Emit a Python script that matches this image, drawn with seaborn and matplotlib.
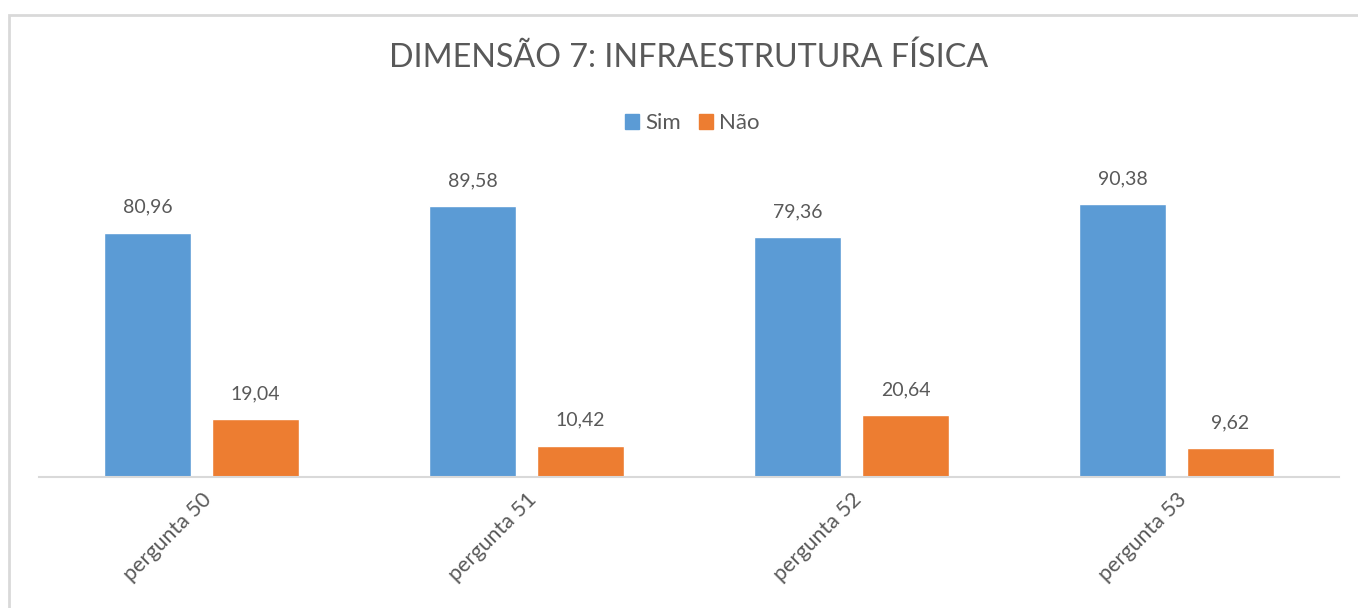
import pandas as pd
import numpy as np
import matplotlib
matplotlib.use('Agg')
import matplotlib.pyplot as plt
import seaborn as sns
from matplotlib.patches import Rectangle

# Data
perguntas = ["pergunta 50", "pergunta 51", "pergunta 52", "pergunta 53"]
sim = [80.96, 89.58, 79.36, 90.38]
nao = [19.04, 10.42, 20.64, 9.62]
series = ["Sim", "Não"]

df = pd.DataFrame({
    "pergunta": perguntas * 2,
    "resposta": [series[0]] * len(perguntas) + [series[1]] * len(perguntas),
    "valor": sim + nao,
})

TEXT = "#595959"
GRID = "#D9D9D9"
PALETTE = {"Sim": "#5B9BD5", "Não": "#ED7D31"}

sns.set_theme(style="white")
plt.rcParams['font.family'] = ['Lato', 'DejaVu Sans']

W, H = 1358, 608
fig = plt.figure(figsize=(W / 100, H / 100), dpi=100)
ax = fig.add_axes([39 / W, 131 / H, 1300 / W, 302 / H])

sns.barplot(data=df, x="pergunta", y="valor", hue="resposta", palette=PALETTE,
            width=0.665, gap=0.2, ax=ax, legend=False, saturation=1)

ax.set_ylim(0, 100)
ax.set_xlim(-0.5, len(perguntas) - 0.5)
ax.set_xlabel("")
ax.set_ylabel("")
ax.set_yticks([])
for s in ["top", "right", "left"]:
    ax.spines[s].set_visible(False)
ax.spines["bottom"].set_color(GRID)
ax.spines["bottom"].set_linewidth(1.5)
ax.tick_params(axis="x", length=0, pad=9)
ax.set_xticks(range(len(perguntas)))
ax.set_xticklabels(perguntas, rotation=45, ha="right", va="top",
                   rotation_mode="anchor", fontsize=15.5, color=TEXT)

# Data labels
for cont in ax.containers:
    for bar in cont:
        v = bar.get_height()
        ax.annotate(f"{v:.2f}".replace(".", ","),
                    (bar.get_x() + bar.get_width() / 2, v),
                    xytext=(0, 12), textcoords="offset points",
                    ha="center", va="bottom", fontsize=14, color=TEXT,
                    annotation_clip=False)

# Title
fig.text(689 / W, 1 - 58 / H, "DIMENSÃO 7: INFRAESTRUTURA FÍSICA",
         ha="center", va="center", fontsize=23.2, color=TEXT)

# Legend
handles = [Rectangle((0, 0), 1, 1, color=PALETTE[s]) for s in series]
fig.legend(handles, series, loc="center", bbox_to_anchor=(692 / W, 1 - 123 / H),
           ncol=2, frameon=False, fontsize=16, labelcolor=TEXT,
           handlelength=0.65, handleheight=0.65, handletextpad=0.25,
           columnspacing=0.8)

# Chart frame
fig.patches.append(Rectangle((9 / W, -0.1), 2, 1 - 15 / H + 0.1,
                             transform=fig.transFigure, fill=False,
                             edgecolor=GRID, linewidth=2))

fig.savefig("out.png", dpi=100)
